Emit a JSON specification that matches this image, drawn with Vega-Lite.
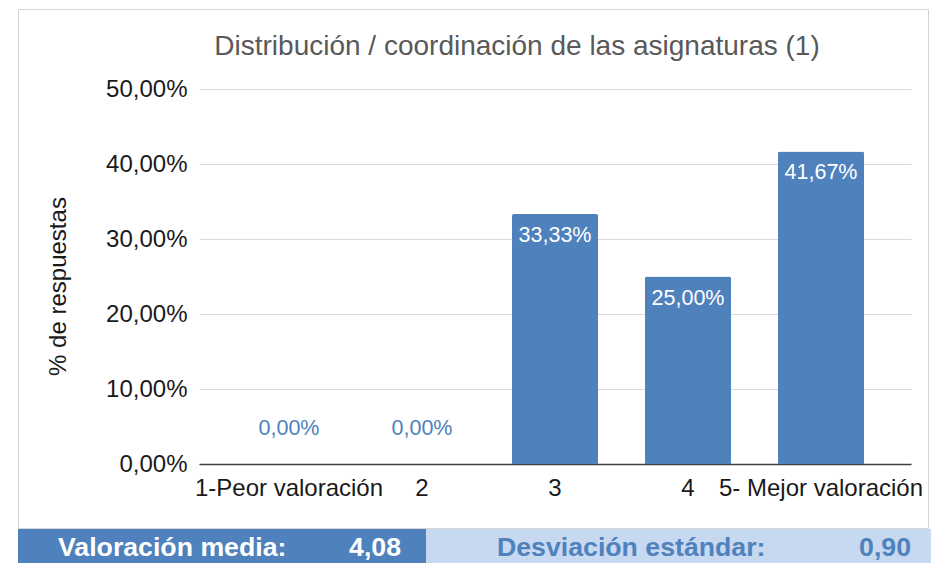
{
  "$schema": "https://vega.github.io/schema/vega-lite/v6.json",
  "background": "white",
  "padding": {"left": 17, "top": 8, "right": 0, "bottom": 0},
  "spacing": 0,
  "config": {
    "locale": {"number": {"decimal": ",", "thousands": ".", "grouping": [3], "currency": ["", " €"]}},
    "font": "Liberation Sans",
    "view": {"stroke": null}
  },
  "vconcat": [
    {
      "width": 910,
      "height": 519,
      "view": {"stroke": "#D4D4D4", "fill": "white"},
      "title": {
        "text": "Distribución / coordinación de las asignaturas (1)",
        "fontSize": 28, "fontWeight": "normal", "color": "#595959", "font": "Liberation Sans",
        "anchor": "middle", "frame": "group", "baseline": "alphabetic", "offset": -73.5, "dx": 44
      },
      "data": {"values": [
        {"valoracion": "1-Peor valoración", "pct": 0},
        {"valoracion": "2", "pct": 0},
        {"valoracion": "3", "pct": 0.333333},
        {"valoracion": "4", "pct": 0.25},
        {"valoracion": "5- Mejor valoración", "pct": 0.416667}
      ]},
      "encoding": {
        "x": {
          "field": "valoracion", "type": "nominal", "sort": null,
          "scale": {"range": [181, 893], "paddingInner": 0.353, "paddingOuter": 0.353},
          "axis": {
            "title": null, "orient": "bottom", "offset": -64, "labelAngle": 0,
            "labelFontSize": 24, "labelColor": "#1a1a1a", "labelPadding": 12,
            "ticks": false, "tickSize": 0, "domainColor": "#404040", "domainWidth": 1.5,
            "labelLimit": 400, "labelOverlap": false, "grid": false
          }
        },
        "y": {
          "field": "pct", "type": "quantitative",
          "scale": {"domain": [0, 0.5], "range": [455, 80], "nice": false},
          "axis": {
            "title": "% de respuestas", "values": [0, 0.1, 0.2, 0.3, 0.4, 0.5], "format": ".2%",
            "offset": -181, "domain": false, "ticks": false, "tickSize": 0, "labelPadding": 12,
            "labelFontSize": 24, "labelColor": "#1a1a1a", "gridColor": "#D9D9D9",
            "titleFontSize": 24, "titleFontWeight": "normal", "titleColor": "#1a1a1a",
            "titlePadding": 35, "titleY": 277
          }
        }
      },
      "layer": [
        {"mark": {"type": "bar", "color": "#4F81BD", "cornerRadiusTopLeft": 2, "cornerRadiusTopRight": 2}},
        {
          "transform": [{"filter": "datum.pct > 0"}],
          "mark": {"type": "text", "baseline": "middle", "dy": 22, "fontSize": 21.5, "color": "white"},
          "encoding": {"text": {"field": "pct", "type": "quantitative", "format": ".2%"}}
        },
        {
          "transform": [{"filter": "datum.pct == 0"}],
          "mark": {"type": "text", "baseline": "middle", "dy": -35, "fontSize": 21.5, "color": "#4F81BD"},
          "encoding": {"text": {"field": "pct", "type": "quantitative", "format": ".2%"}}
        }
      ]
    },
    {
      "spacing": 0,
      "hconcat": [
        {
          "width": 408, "height": 37,
          "view": {"fill": "#4F81BD", "stroke": null},
          "data": {"values": [{"etiqueta": "Valoración media:", "valor": 4.0833}]},
          "layer": [
            {
              "mark": {"type": "text", "align": "left", "baseline": "middle", "dx": 40, "fontSize": 26.7, "fontWeight": "bold", "color": "white"},
              "encoding": {"x": {"datum": 0, "type": "quantitative", "scale": {"domain": [0, 1]}, "axis": null}, "text": {"field": "etiqueta"}}
            },
            {
              "mark": {"type": "text", "align": "right", "baseline": "middle", "dx": -25, "fontSize": 26.7, "fontWeight": "bold", "color": "white"},
              "encoding": {"x": {"datum": 1, "type": "quantitative", "scale": {"domain": [0, 1]}, "axis": null}, "text": {"field": "valor", "type": "quantitative", "format": ".2f"}}
            }
          ]
        },
        {
          "width": 505, "height": 37,
          "view": {"fill": "#C6D9F1", "stroke": null},
          "data": {"values": [{"etiqueta": "Desviación estándar:", "valor": 0.9003}]},
          "layer": [
            {
              "mark": {"type": "text", "align": "left", "baseline": "middle", "dx": 71, "fontSize": 26.7, "fontWeight": "bold", "color": "#4F81BD"},
              "encoding": {"x": {"datum": 0, "type": "quantitative", "scale": {"domain": [0, 1]}, "axis": null}, "text": {"field": "etiqueta"}}
            },
            {
              "mark": {"type": "text", "align": "right", "baseline": "middle", "dx": -20, "fontSize": 26.7, "fontWeight": "bold", "color": "#4F81BD"},
              "encoding": {"x": {"datum": 1, "type": "quantitative", "scale": {"domain": [0, 1]}, "axis": null}, "text": {"field": "valor", "type": "quantitative", "format": ".2f"}}
            }
          ]
        }
      ]
    }
  ]
}
